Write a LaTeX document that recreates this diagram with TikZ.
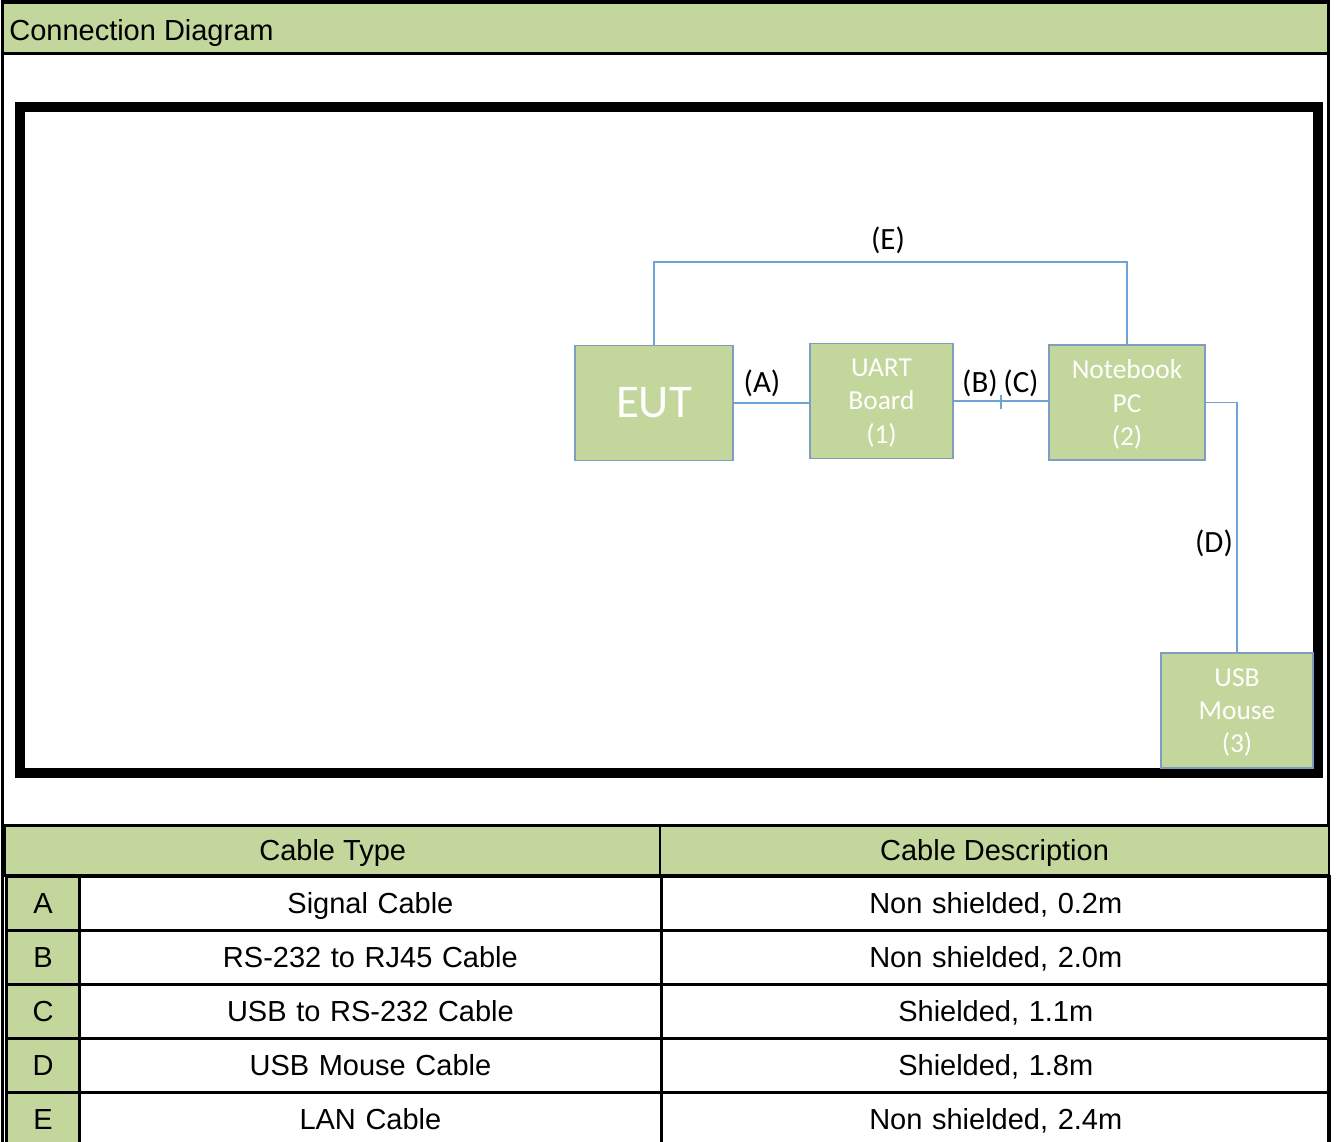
\documentclass[tikz,border=0pt]{standalone}
\usepackage{fontspec}
\setmainfont{Liberation Sans}
\newfontfamily\calibri{Carlito}
\usetikzlibrary{matrix}
\definecolor{cellgreen}{HTML}{C3D69B}
\definecolor{boxedge}{HTML}{7F9DC0}
\definecolor{wirecol}{HTML}{6FA3D8}

\begin{document}
\begin{tikzpicture}[x=0.02cm,y=-0.02cm]
 \tikzset{unit box/.style={
    draw=boxedge, fill=cellgreen, line width=0.03cm,
    text=white, align=center, inner sep=0pt,
    minimum width=#1, minimum height=2.3cm,
    font=\calibri\fontsize{15.6}{19}\selectfont
  },
  unit box/.default=3.1cm,
  wire/.style={draw=wirecol, line width=0.025cm},
  cable label/.style={inner sep=0pt, font=\calibri\fontsize{17.6}{20}\selectfont},
  head cell/.style={draw, fill=cellgreen, line width=0.05cm,
    minimum height=1cm, inner sep=0pt, text height=13.5pt, text depth=1.7pt,
    font=\fontsize{16.5}{19}\selectfont},
  cable table/.style={
    matrix of nodes, line width=0.05cm,
    column sep=-\pgflinewidth, row sep=-\pgflinewidth,
    inner sep=0pt,
    nodes={draw,
      minimum height=#1,
      anchor=center,
      align=center,
      inner sep=0pt,
      text height=13.5pt, text depth=1.7pt,
      font=\fontsize{16.5}{19}\selectfont
    },
    column 1/.style={nodes={fill=cellgreen, text width=1.46cm}},
    column 2/.style={nodes={text width=11.64cm}},
    column 3/.style={nodes={text width=13.38cm}},
  },
  cable table/.default=1.08cm
}
\useasboundingbox (0,0) rectangle (1336,1142);

% sheet frame and title bar
\fill[cellgreen] (2,2) rectangle (1329,53);
\draw[line width=0.07cm] (2.5,2) rectangle (1328.5,1160);
\draw[line width=0.06cm] (2.5,53.5) -- (1328.5,53.5);
\node[anchor=west, inner sep=0pt, font=\fontsize{16.5}{19}\selectfont] (title) at (9,33) {Connection Diagram};

% test setup
\draw[line width=0.2cm] (20,107) rectangle (1318,773);
\node[unit box=3.16cm, font=\calibri\fontsize{26.7}{30}\selectfont] (eut) at (654,403) {EUT};
\node[unit box=2.86cm, text depth=-2.5pt] (uart) at (881.5,401) {UART\\Board\\(1)};
\node[unit box=3.12cm, text depth=-2.5pt] (nb) at (1127,402.5) {Notebook\\PC\\(2)};
\node[unit box=3.04cm, text depth=-2.5pt] (mouse) at (1237,710.5) {USB\\Mouse\\(3)};

\coordinate (etop) at (654,262);
\draw[wire] (eut.north) -- (etop) -| (nb.north);
\draw[wire] (eut.east) -- (eut.east -| uart.west);
\draw[wire] (uart.east) -- coordinate (joint) (uart.east -| nb.west);
\draw[wire] (joint) ++(0,-6) -- ++(0,14);
\draw[wire] (nb.east) -| (mouse.north);

\node[cable label] (lblE) at (888,240) {(E)};
\node[cable label] (lblA) at (762,383) {(A)};
\node[cable label] (lblB) at (980,383) {(B)};
\node[cable label] (lblC) at (1021,383) {(C)};
\node[cable label] (lblD) at (1214,543) {(D)};

% cable list
\matrix (cables) [cable table, anchor=north west] at (4,874)
{
   A & Signal Cable & Non shielded, 0.2m\\
   B & RS-232 to RJ45 Cable & Non shielded, 2.0m\\
   C & USB to RS-232 Cable & Shielded, 1.1m\\
   D & USB Mouse Cable & Shielded, 1.8m\\
   E & LAN Cable & Non shielded, 2.4m\\
};
\node[head cell, minimum width=13.1cm, anchor=south west] (typehead)
  at ([yshift=-0.05cm]cables.north west) {Cable Type};
\node[head cell, minimum width=13.38cm, anchor=west] (deschead)
  at ([xshift=-0.05cm]typehead.east) {Cable Description};
\end{tikzpicture}
\end{document}
